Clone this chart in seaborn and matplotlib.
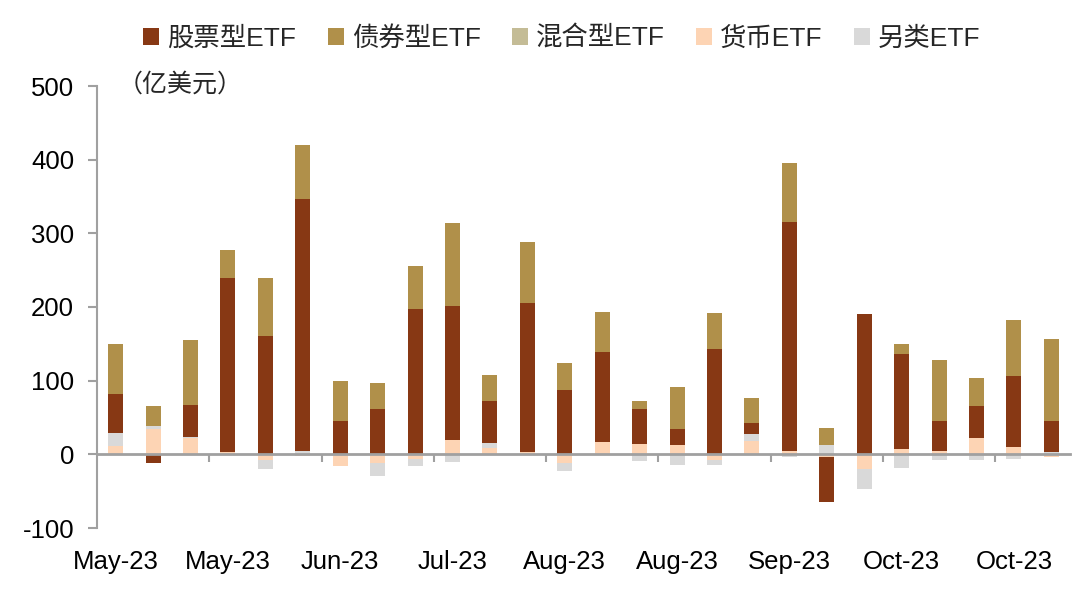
import numpy as np
import pandas as pd
import matplotlib
matplotlib.use("Agg")
import matplotlib.pyplot as plt
import seaborn as sns
from matplotlib.patches import Patch

# ---- data (亿美元), 26 weekly observations ----
weeks = list(range(26))
tick_labels = ["May-23", "May-23", "Jun-23", "Jul-23", "Aug-23",
               "Aug-23", "Sep-23", "Oct-23", "Oct-23"]
series_names = ["股票型ETF", "债券型ETF", "混合型ETF", "货币ETF", "另类ETF"]

equity = [53, -12, 44, 236, 160, 342, 44, 62, 197, 182, 57, 202, 88,
          122, 47, 23, 143, 14, 310, -62, 191, 129, 40, 43, 97, 42]
bond = [68, 27, 88, 39, 80, 73, 55, 35, 58, 112, 35, 83, 36,
        54, 12, 56, 49, 35, 80, 23, 0, 14, 83, 38, 75, 111]
mixed = [0, 0, 0, 0, 0, 0, 0, 0, 0, 0, 0, 0, 0,
         0, 0, 0, 0, 0, 0, 0, 0, 0, 0, 0, 0, 0]
money = [11, 34, 22, 3, -8, -2, -16, -12, -6, 20, 8, 3, -12,
         17, 14, 12, -8, 18, 5, -3, -20, 7, 5, 22, 10, -4]
alt = [18, 5, 1, 0, -12, 5, 1, -18, -10, -10, 8, 0, -10,
       0, -9, -15, -6, 10, -4, 13, -27, -19, -8, -8, -6, 3]

colors = {
    "股票型ETF": "#873814",
    "债券型ETF": "#B0904A",
    "混合型ETF": "#C4BC96",
    "货币ETF": "#FDD4B4",
    "另类ETF": "#D9D9D9",
}

sns.set_style("white")
plt.rcParams["font.family"] = ["Liberation Sans", "Noto Sans CJK SC"]
plt.rcParams["axes.unicode_minus"] = False

fig = plt.figure(figsize=(10.8, 6.01), dpi=100)
ax = fig.add_axes([97 / 1080, 1 - 528 / 601, (1070 - 97) / 1080, (528 - 86) / 601])

# stacking order from the zero line outward
stack_order = [("货币ETF", money), ("另类ETF", alt), ("股票型ETF", equity),
               ("混合型ETF", mixed), ("债券型ETF", bond)]

pos_cum = np.zeros(len(weeks))
neg_cum = np.zeros(len(weeks))
layers = []
for name, vals in stack_order:
    v = np.asarray(vals, dtype=float)
    pos_cum = pos_cum + np.clip(v, 0, None)
    neg_cum = neg_cum + np.clip(v, None, 0)
    layers.append((name, pos_cum.copy(), neg_cum.copy()))

for name, p, n in reversed(layers):
    for arr in (p, n):
        df = pd.DataFrame({"week": weeks, "value": arr})
        sns.barplot(data=df, x="week", y="value", order=weeks,
                    color=colors[name], saturation=1, width=0.4,
                    linewidth=0, errorbar=None, ax=ax)

ax.set_xlim(-0.5, 25.5)
ax.set_ylim(-100, 500)
ax.set_yticks(range(-100, 501, 100))
ax.set_xlabel("")
ax.set_ylabel("")

axis_gray = "#A0A0A0"
for s in ("top", "right"):
    ax.spines[s].set_visible(False)
ax.spines["left"].set_color(axis_gray)
ax.spines["left"].set_linewidth(1.5)
ax.spines["bottom"].set_position(("data", 0))
ax.spines["bottom"].set_color(axis_gray)
ax.spines["bottom"].set_linewidth(2)

ax.set_xticks(np.arange(2.5, 25, 3))
ax.set_xticklabels([])
ax.tick_params(axis="x", bottom=True, direction="out", length=6,
               width=1.5, color=axis_gray)
ax.tick_params(axis="y", left=True, direction="out", length=6.5,
               width=1.5, color=axis_gray, labelsize=18.5, pad=10,
               labelcolor="#000000")

sec = ax.secondary_xaxis("bottom")
sec.set_xticks(list(range(0, 26, 3)), tick_labels)
sec.tick_params(length=0, pad=16, labelsize=18.5, labelcolor="#000000")
sec.spines["bottom"].set_visible(False)

fig.text(118 / 1080, 1 - 85 / 601, "（亿美元）", fontsize=18, va="center",
         ha="left", family=["Noto Sans CJK SC", "DejaVu Sans"])

handles = [Patch(facecolor=colors[n], edgecolor="none") for n in series_names]
fig.legend(handles, series_names, loc="center",
           bbox_to_anchor=(562 / 1080, 1 - 38 / 601), ncol=5, frameon=False,
           fontsize=19, handlelength=0.6, handleheight=0.6,
           handletextpad=0.3, columnspacing=1.2)

fig.savefig("out.png", dpi=100)
